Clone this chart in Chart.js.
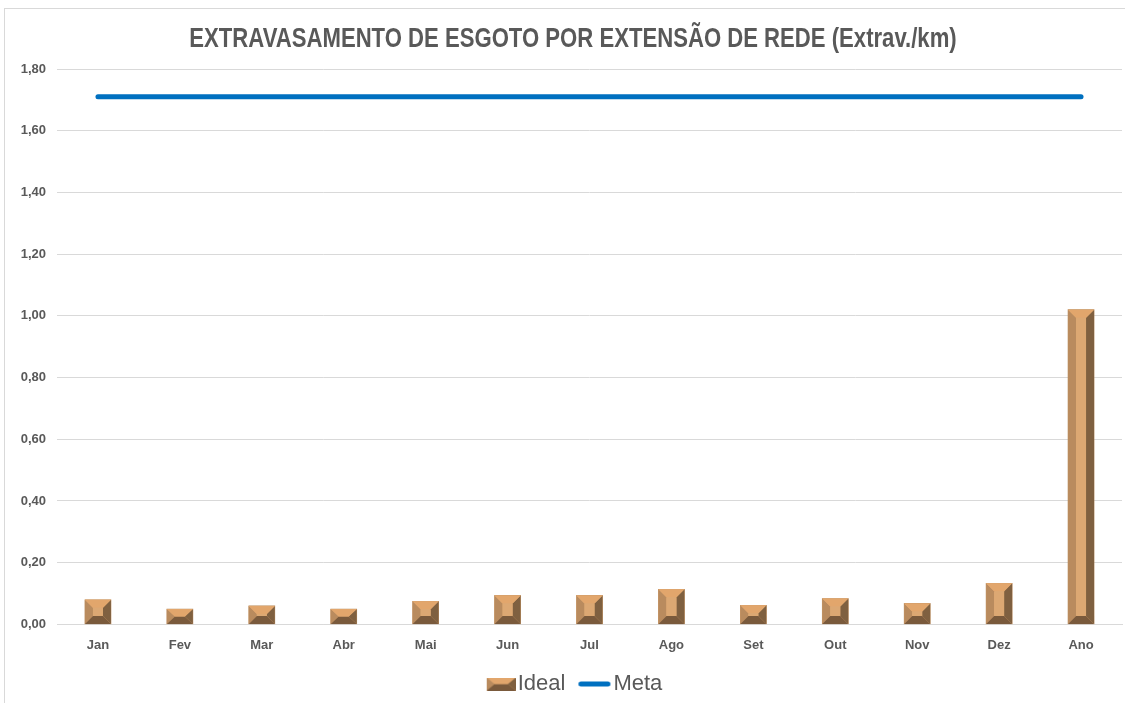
<!DOCTYPE html>
<html lang="pt-br">
<head>
    <meta charset="UTF-8">
    <title>Extravasamento de Esgoto por Extensão de Rede</title>
    <script src="https://cdn.jsdelivr.net/npm/chart.js"></script>
    <style>
        * {
            margin: 0;
            padding: 0;
            box-sizing: border-box;
        }

        body {
            background-color: #fff;
            width: 1125px;
            height: 703px;
            overflow: hidden;
            position: relative;
        }

        .frame {
            position: absolute;
            left: 4px;
            top: 8px;
            width: 1200px;
            height: 800px;
            border-left: 1px solid #d9d9d9;
            border-top: 1px solid #d9d9d9;
        }

        #grafico {
            position: absolute;
            left: 5px;
            top: 9px;
        }
    </style>
</head>
<body>
    <div class="frame"></div>
    <canvas id="grafico" width="1136" height="694"></canvas>
    <script>
        const titulo = "EXTRAVASAMENTO DE ESGOTO POR EXTENSÃO DE REDE (Extrav./km)";
        const meses = ["Jan", "Fev", "Mar", "Abr", "Mai", "Jun", "Jul", "Ago", "Set", "Out", "Nov", "Dez", "Ano"];
        const valoresIdeal = [0.08, 0.05, 0.06, 0.05, 0.075, 0.094, 0.094, 0.114, 0.062, 0.084, 0.068, 0.133, 1.02];
        const valoresMeta = [1.71, 1.71, 1.71, 1.71, 1.71, 1.71, 1.71, 1.71, 1.71, 1.71, 1.71, 1.71, 1.71];

        const fonte = "'Liberation Sans', Arial, sans-serif";
        const cinza = "#595959";

        const cores = {
            topo: "#e2a66c",
            centro: "#dca873",
            esquerda: "#b98b5e",
            direita: "#7f6040",
            base: "#7a5a3c"
        };

        // barra com efeito chanfrado (estilo Excel)
        function desenhaChanfro(ctx, l, t, r, b) {
            const w = r - l, h = b - t;
            if (w <= 0 || h <= 0) return;
            const bx = Math.min(8, w / 2);
            const by = Math.min(8, h / 2);
            const il = l + bx, ir = r - bx, it = t + by, ib = b - by;
            const poly = (pts, cor) => {
                ctx.beginPath();
                ctx.moveTo(pts[0][0], pts[0][1]);
                for (let i = 1; i < pts.length; i++) ctx.lineTo(pts[i][0], pts[i][1]);
                ctx.closePath();
                ctx.fillStyle = cor;
                ctx.fill();
            };
            poly([[l, t], [r, t], [r, b], [l, b]], cores.centro);
            poly([[l, t], [il, it], [il, ib], [l, b]], cores.esquerda);
            poly([[r, t], [ir, it], [ir, ib], [r, b]], cores.direita);
            poly([[l, b], [il, ib], [ir, ib], [r, b]], cores.base);
            poly([[l, t], [r, t], [ir, it], [il, it]], cores.topo);
            ctx.fillStyle = cores.centro;
            ctx.fillRect(il, it, ir - il, ib - it);
        }

        // ícones da legenda (desenho encostado à direita, perto do texto)
        const iconeIdeal = document.createElement("canvas");
        iconeIdeal.width = 48;
        iconeIdeal.height = 13;
        desenhaChanfro(iconeIdeal.getContext("2d"), 19, 0, 48, 13);

        const iconeMeta = document.createElement("canvas");
        iconeMeta.width = 48;
        iconeMeta.height = 6;
        (function () {
            const c = iconeMeta.getContext("2d");
            c.strokeStyle = "#0070c0";
            c.lineWidth = 5;
            c.lineCap = "round";
            c.beginPath();
            c.moveTo(17.5, 3);
            c.lineTo(44.5, 3);
            c.stroke();
        })();

        const pluginChanfro = {
            id: "chanfro",
            afterDatasetDraw(chart, args) {
                if (args.index !== 0) return;
                const ctx = chart.ctx;
                ctx.save();
                args.meta.data.forEach(bar => {
                    const p = bar.getProps(["x", "y", "base", "width"], true);
                    desenhaChanfro(ctx, p.x - p.width / 2, Math.min(p.y, p.base), p.x + p.width / 2, Math.max(p.y, p.base));
                });
                ctx.restore();
            }
        };

        // título em fonte "estreita" (Arial Narrow não está disponível)
        const pluginTitulo = {
            id: "tituloEstreito",
            afterDraw(chart) {
                const ctx = chart.ctx;
                ctx.save();
                ctx.translate(chart.width / 2, 30);
                ctx.scale(0.79, 1);
                ctx.font = "bold 28px " + fonte;
                ctx.fillStyle = cinza;
                ctx.textAlign = "center";
                ctx.textBaseline = "middle";
                ctx.fillText(titulo, 0, 0);
                ctx.restore();
            }
        };

        const ctx = document.getElementById("grafico").getContext("2d");
        const grafico = new Chart(ctx, {
            data: {
                labels: meses,
                datasets: [{
                    type: "bar",
                    label: "Ideal",
                    data: valoresIdeal,
                    backgroundColor: cores.esquerda,
                    barThickness: 26,
                    pointStyle: iconeIdeal
                }, {
                    type: "line",
                    label: "Meta",
                    data: valoresMeta,
                    borderColor: "#0070c0",
                    backgroundColor: "#0070c0",
                    borderWidth: 5,
                    borderCapStyle: "round",
                    pointRadius: 0,
                    pointStyle: iconeMeta
                }]
            },
            options: {
                responsive: false,
                animation: false,
                layout: {
                    padding: { left: 12, right: 19, top: 60, bottom: -2 }
                },
                plugins: {
                    title: { display: false },
                    legend: {
                        position: "bottom",
                        labels: {
                            usePointStyle: true,
                            pointStyleWidth: 30,
                            color: cinza,
                            font: { family: fonte, size: 22 },
                            padding: 7
                        }
                    },
                    tooltip: { enabled: false }
                },
                scales: {
                    x: {
                        grid: { display: false, drawTicks: false },
                        border: { color: "#d9d9d9", width: 1 },
                        ticks: {
                            color: cinza,
                            font: { family: fonte, size: 13, weight: "bold" },
                            padding: 13
                        }
                    },
                    y: {
                        min: 0,
                        max: 1.8,
                        grid: { color: "#d9d9d9", drawTicks: false },
                        border: { display: false },
                        ticks: {
                            stepSize: 0.2,
                            color: cinza,
                            font: { family: fonte, size: 13, weight: "bold" },
                            padding: 11,
                            callback: v => v.toFixed(2).replace(".", ",")
                        },
                        afterFit: scale => { scale.width = 40; }
                    }
                }
            },
            plugins: [pluginChanfro, pluginTitulo]
        });
    </script>
</body>
</html>
